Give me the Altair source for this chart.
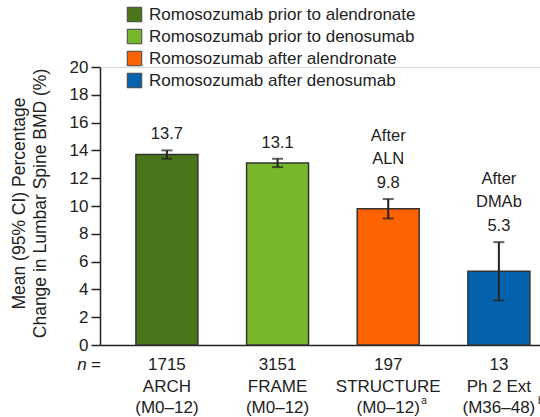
import altair as alt
import pandas as pd

studies = ["ARCH", "FRAME", "STRUCTURE", "Ph 2 Ext"]
groups = ["Romosozumab prior to alendronate", "Romosozumab prior to denosumab",
          "Romosozumab after alendronate", "Romosozumab after denosumab"]
colors = ["#4b7519", "#76b82a", "#ff6200", "#0562ad"]
n_values = ["1715", "3151", "197", "13"]
periods = ["(M0–12)", "(M0–12)", "(M0–12)", "(M36–48)"]
sups = ["", "", "a", "b"]
means = [13.7, 13.1, 9.8, 5.3]
lower = [13.4, 12.8, 9.1, 3.2]
upper = [14.0, 13.4, 10.5, 7.4]
pre1 = ["", "", "After", "After"]
pre2 = ["", "", "ALN", "DMAb"]
y_ticks = list(range(0, 21, 2))

df = pd.DataFrame({
    "study": studies, "group": groups, "n": n_values, "period": periods,
    "sup": sups, "mean": means, "lo": lower, "hi": upper,
    "label": [f"{m:.1f}" for m in means], "pre1": pre1, "pre2": pre2,
})

FONT = "Liberation Sans"
W, H = 440, 278

Y_SCALE = alt.Scale(domain=[0, 20], nice=False)
Y_AXIS = alt.Axis(values=y_ticks, tickCount=11,
                  title=["Mean (95% CI) Percentage", "Change in Lumbar Spine BMD (%)"],
                  titleFont=FONT, titleFontSize=17.5, titleFontWeight="normal",
                  titleColor="#222", titleAngle=270, titleX=-72, titleY=136,
                  titleBaseline="bottom", titleAlign="center", titleLineHeight=21,
                  labelFont=FONT, labelFontSize=17, labelColor="#222",
                  labelOverlap=False, labelPadding=3, tickSize=9,
                  tickColor="#222", tickWidth=1.5,
                  domainColor="#222", domainWidth=1.5, grid=False)


def yq(field):
    return alt.Y(f"{field}:Q", scale=Y_SCALE, axis=Y_AXIS)


xs = alt.X("study:N", sort=studies,
           scale=alt.Scale(paddingInner=0.44, paddingOuter=0.208, align=0.78),
           axis=alt.Axis(labels=False, ticks=False, title=None, domainColor="#222",
                         domainWidth=1.5))
x_plain = alt.X("study:N", sort=studies)

base = alt.Chart(df)

bars = base.mark_bar(stroke="#333", strokeWidth=1.5).encode(
    x=xs,
    y=yq("mean"),
    color=alt.Color("group:N", sort=groups,
                    scale=alt.Scale(domain=groups, range=colors),
                    legend=alt.Legend(title=None, orient="none", legendX=26, legendY=-61,
                                      symbolType="square", symbolSize=210,
                                      symbolStrokeColor="#444", symbolStrokeWidth=1,
                                      symbolOpacity=1,
                                      labelFont=FONT, labelFontSize=17, labelColor="#222",
                                      labelOffset=6, rowPadding=3, labelLimit=400)),
)

err = base.mark_rule(color="#222", strokeWidth=2).encode(
    x=x_plain, y=yq("lo"), y2="hi:Q")
cap_lo = base.mark_tick(color="#222", thickness=2, size=11).encode(x=x_plain, y=yq("lo"))
cap_hi = base.mark_tick(color="#222", thickness=2, size=11).encode(x=x_plain, y=yq("hi"))


def txt(field, dy, size=16.5):
    return base.mark_text(font=FONT, fontSize=size, color="#222", baseline="middle",
                          dy=dy).encode(x=x_plain, y=yq("hi"), text=f"{field}:N")


val = txt("label", -16)
p2 = txt("pre2", -40)
p1 = txt("pre1", -63)


def bottom(field, ypix):
    return base.mark_text(font=FONT, fontSize=17, color="#222", baseline="middle").encode(
        x=x_plain, y=alt.value(ypix), text=f"{field}:N")


b1 = bottom("n", 365 - 67)
b2 = bottom("study", 387 - 67)
b3 = bottom("period", 408 - 67)


def sup_layer(study, dx):
    return base.transform_filter(alt.datum.study == study).mark_text(
        font=FONT, fontSize=10, color="#222", baseline="middle", align="left",
        dx=dx).encode(x=x_plain, y=alt.value(401 - 67), text="sup:N")


sup_a = sup_layer("STRUCTURE", 33)
sup_b = sup_layer("Ph 2 Ext", 39)

nlab = alt.Chart(pd.DataFrame({"t": ["n"]})).mark_text(
    font=FONT, fontSize=17, fontStyle="italic", color="#222", baseline="middle",
    align="center").encode(x=alt.value(-18), y=alt.value(365 - 67), text="t:N")
eqlab = alt.Chart(pd.DataFrame({"t": ["="]})).mark_text(
    font=FONT, fontSize=17, color="#222", baseline="middle",
    align="center").encode(x=alt.value(-4), y=alt.value(365 - 67), text="t:N")

chart = alt.layer(bars, err, cap_lo, cap_hi, val, p2, p1, b1, b2, b3,
                  sup_a, sup_b, nlab, eqlab).properties(
    width=W, height=H,
    autosize=alt.AutoSizeParams(type="none"),
    padding={"left": 100, "top": 67, "right": 0, "bottom": 72},
).configure_view(stroke=None).configure(background="white")

chart.save("out.html", embed_options={"renderer": "svg", "actions": False})
